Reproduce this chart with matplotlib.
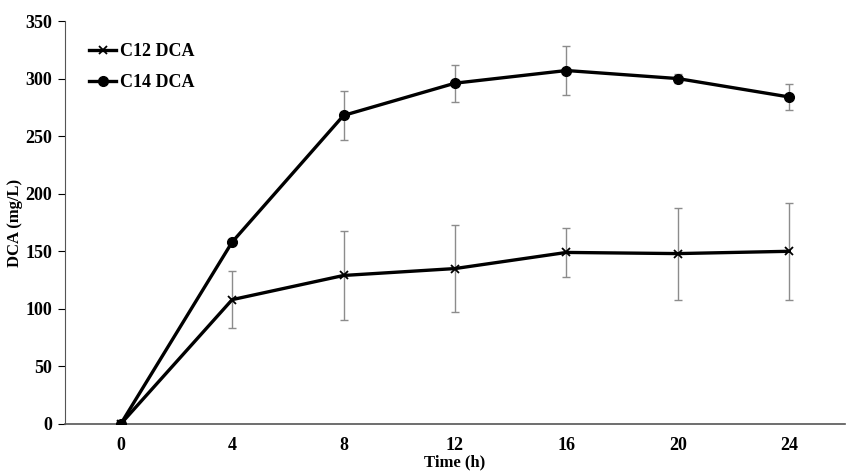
import matplotlib.pyplot as plt

plt.rcParams['font.family'] = ['Liberation Serif', 'DejaVu Serif']
plt.rcParams['font.weight'] = 'bold'

hours = [0, 4, 8, 12, 16, 20, 24]
c12 = [0, 108, 129, 135, 149, 148, 150]
c12_err = [0, 25, 39, 38, 21, 40, 42]
c14 = [0, 158, 268, 296, 307, 300, 284]
c14_err = [0, 0, 21, 16, 21, 4, 11]

fig = plt.figure(figsize=(8.48, 4.72), dpi=100)
ax = fig.add_axes([65 / 848, 48 / 472, 780 / 848, 403 / 472])

ax.errorbar(hours, c12, yerr=c12_err, fmt='none', ecolor='#8c8c8c',
            elinewidth=1, capsize=3, capthick=1, zorder=1)
ax.errorbar(hours, c14, yerr=c14_err, fmt='none', ecolor='#8c8c8c',
            elinewidth=1, capsize=3, capthick=1, zorder=1)
ax.plot(hours, c12, color='black', lw=2.4, marker='x', ms=6, mew=1.3,
        label='C12 DCA', zorder=3)
ax.plot(hours, c14, color='black', lw=2.4, marker='o', ms=7,
        label='C14 DCA', zorder=3)

ax.set_xlim(-2, 26)
ax.set_ylim(0, 350)
ax.set_xticks(hours)
ax.set_yticks(range(0, 351, 50))
ax.tick_params(axis='x', length=0, labelsize=13, pad=9)
ax.tick_params(axis='y', length=5, direction='out', labelsize=13, pad=4)
for s in ['top', 'right']:
    ax.spines[s].set_visible(False)
ax.spines['left'].set_color('#555555')
ax.spines['bottom'].set_color('#555555')
ax.spines['bottom'].set_linewidth(1.2)

ax.set_xlabel('Time (h)', fontsize=12, fontweight='bold', labelpad=1)
ax.set_ylabel('DCA (mg/L)', fontsize=12, fontweight='bold')
ax.yaxis.set_label_coords(-0.054, 0.5)

ax.legend(loc='upper left', bbox_to_anchor=(0.01, 0.985), frameon=False,
          fontsize=13, handlelength=1.5, handletextpad=0.2, labelspacing=0.75)

fig.savefig('out.png', dpi=100)
